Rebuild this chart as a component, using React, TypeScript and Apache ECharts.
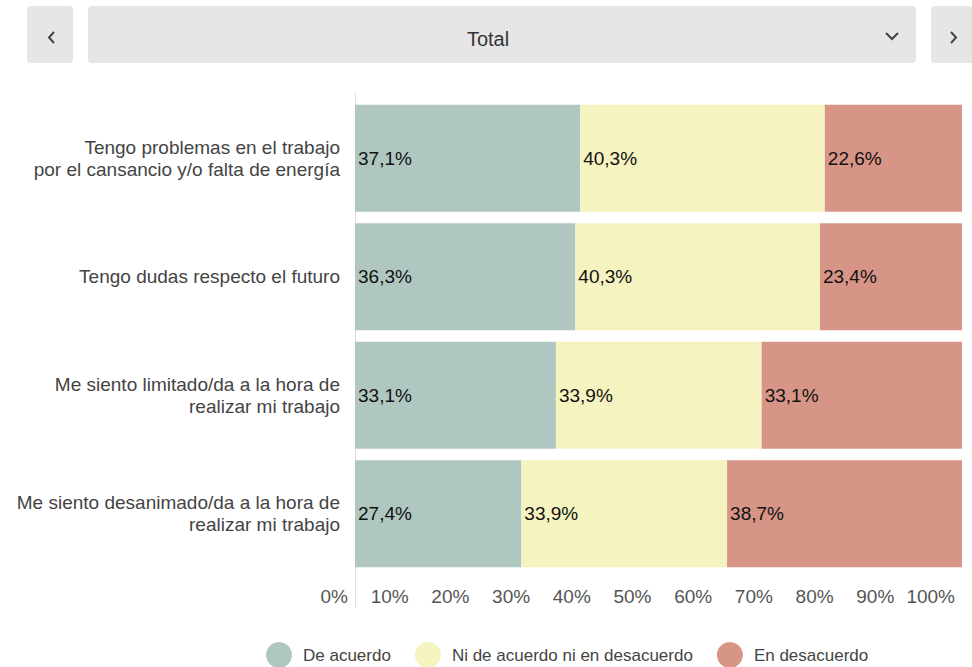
import React, { useEffect, useRef } from "react";
import * as echarts from "echarts";

const categories = [
  "Tengo problemas en el trabajo\npor el cansancio y/o falta de energía",
  "Tengo dudas respecto el futuro",
  "Me siento limitado/da a la hora de\nrealizar mi trabajo",
  "Me siento desanimado/da a la hora de\nrealizar mi trabajo",
];
const seriesNames = ["De acuerdo", "Ni de acuerdo ni en desacuerdo", "En desacuerdo"];
const deAcuerdo = [37.1, 36.3, 33.1, 27.4];
const niNi = [40.3, 40.3, 33.9, 33.9];
const enDesacuerdo = [22.6, 23.4, 33.1, 38.7];
const colors = ["#b0c7c1", "#f5f3c0", "#d79587"];
const selectorLabel = "Total";

const FONT = "'Liberation Sans', Arial, sans-serif";

export default function App() {
  const ref = useRef<HTMLDivElement>(null);
  useEffect(() => {
    if (!ref.current) return;
    const chart = echarts.init(ref.current, null, { renderer: "svg" });
    const values = [deAcuerdo, niNi, enDesacuerdo];
    chart.setOption({
      animation: false,
      textStyle: { fontFamily: FONT },
      grid: { left: 355, right: 10, top: 99, height: 474 },
      legend: {
        left: 261,
        top: 637,
        icon: "circle",
        itemWidth: 26,
        itemHeight: 26,
        itemGap: 24,
        data: seriesNames,
        textStyle: { fontSize: 17, color: "#444", fontFamily: FONT, padding: [0, 0, 0, 6] },
      },
      xAxis: {
        type: "value",
        min: 0,
        max: 100,
        interval: 10,
        splitLine: { show: false },
        axisLine: { show: false },
        axisTick: { show: false },
        axisLabel: {
          formatter: "{value}%",
          align: "right",
          padding: [0, 7, 0, 0],
          margin: 14,
          fontSize: 19,
          color: "#555",
          fontFamily: FONT,
        },
      },
      yAxis: {
        type: "category",
        inverse: true,
        data: categories,
        axisLine: { show: false },
        axisTick: { show: false },
        axisLabel: {
          margin: 15,
          fontSize: 19,
          lineHeight: 22,
          color: "#444",
          align: "right",
          fontFamily: FONT,
        },
      },
      series: seriesNames.map((name, i) => ({
        name,
        type: "bar",
        stack: "total",
        barWidth: 107,
        itemStyle: { color: colors[i] },
        label: {
          show: true,
          position: "insideLeft",
          distance: 3,
          formatter: (p: any) => p.value.toFixed(1).replace(".", ",") + "%",
          fontSize: 19,
          color: "#111",
          fontFamily: FONT,
        },
        data: values[i],
      })),
      graphic: [
        {
          type: "line",
          shape: { x1: 355.5, y1: 93, x2: 355.5, y2: 607 },
          style: { stroke: "#dddddd", lineWidth: 1 },
        },
        {
          type: "rect",
          shape: { x: 27, y: 6, width: 46, height: 57, r: 4 },
          style: { fill: "#e6e6e6" },
        },
        {
          type: "rect",
          shape: { x: 88, y: 6, width: 828, height: 57, r: 4 },
          style: { fill: "#e6e6e6" },
        },
        {
          type: "rect",
          shape: { x: 931, y: 6, width: 50, height: 57, r: 4 },
          style: { fill: "#e6e6e6" },
        },
        {
          type: "polyline",
          shape: { points: [[54, 32], [49, 37.5], [54, 43]] },
          style: { stroke: "#444", lineWidth: 2, fill: "none" },
        },
        {
          type: "polyline",
          shape: { points: [[951, 32], [956, 37.5], [951, 43]] },
          style: { stroke: "#444", lineWidth: 2, fill: "none" },
        },
        {
          type: "polyline",
          shape: { points: [[886, 33], [892, 39], [898, 33]] },
          style: { stroke: "#444", lineWidth: 2, fill: "none" },
        },
        {
          type: "text",
          x: 488,
          y: 39,
          style: {
            text: selectorLabel,
            fontSize: 20,
            fill: "#333",
            fontFamily: FONT,
            align: "center",
            verticalAlign: "middle",
          },
        },
      ],
    });
    return () => chart.dispose();
  }, []);
  return (
    <div
      ref={ref}
      style={{ position: "fixed", left: 0, top: 0, width: 972, height: 667, background: "#fff" }}
    />
  );
}
